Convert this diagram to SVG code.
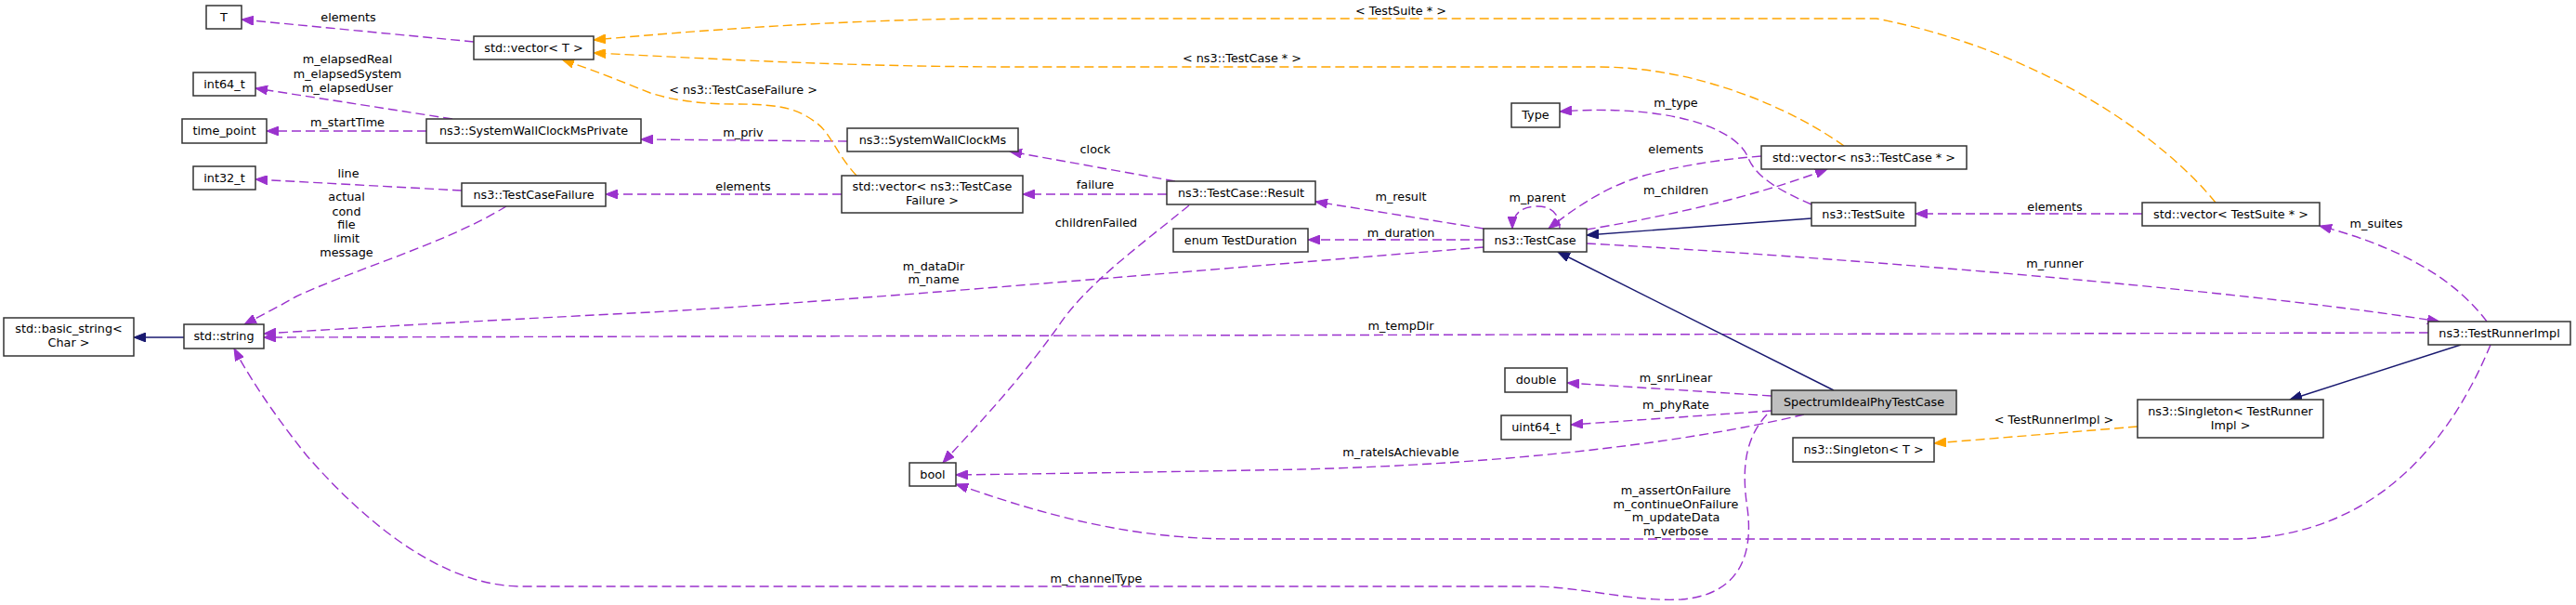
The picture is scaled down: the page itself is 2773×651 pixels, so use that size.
<svg xmlns="http://www.w3.org/2000/svg" width="2773" height="651" viewBox="0 0 2773 651">
<style>
.n{fill:#ffffff;stroke:#333333;stroke-width:1.5}
.g{fill:#bfbfbf;stroke:#333333;stroke-width:1.5}
.t{font-family:"DejaVu Sans","Liberation Sans",sans-serif;font-size:12.8px;text-anchor:middle;fill:#000000}
.p{fill:none;stroke:#9a32cd;stroke-width:1.4;stroke-dasharray:10,5}
.o{fill:none;stroke:#ffa500;stroke-width:1.4;stroke-dasharray:10,5}
.b{fill:none;stroke:#191970;stroke-width:1.4}
</style>
<defs>
<marker id="ap" markerUnits="userSpaceOnUse" markerWidth="14" markerHeight="10" refX="13" refY="5" orient="auto"><path d="M0,0 L13,5 L0,10 z" fill="#9a32cd" stroke="#9a32cd" stroke-width="1"/></marker>
<marker id="ao" markerUnits="userSpaceOnUse" markerWidth="14" markerHeight="10" refX="13" refY="5" orient="auto"><path d="M0,0 L13,5 L0,10 z" fill="#ffa500" stroke="#ffa500" stroke-width="1"/></marker>
<marker id="ab" markerUnits="userSpaceOnUse" markerWidth="14" markerHeight="10" refX="13" refY="5" orient="auto"><path d="M0,0 L13,5 L0,10 z" fill="#191970" stroke="#191970" stroke-width="1"/></marker>
</defs>
<rect x="0" y="0" width="2773" height="651" fill="#ffffff"/>
<g id="connectors">
<path class="p" marker-end="url(#ap)" d="M510,45 L260,21"/>
<text class="t" x="375" y="23">elements</text>
<path class="p" marker-end="url(#ap)" d="M487,128 L275,95"/>
<text class="t" x="374" y="68">m_elapsedReal</text>
<text class="t" x="374" y="84">m_elapsedSystem</text>
<text class="t" x="374" y="99">m_elapsedUser</text>
<path class="p" marker-end="url(#ap)" d="M459,141 L287,141"/>
<text class="t" x="374" y="136">m_startTime</text>
<path class="p" marker-end="url(#ap)" d="M497,205 L275,193"/>
<text class="t" x="375" y="191">line</text>
<path class="p" marker-end="url(#ap)" d="M545,222 C480,262 380,290 317,320 C300,330 280,340 263,349"/>
<text class="t" x="373" y="216">actual</text>
<text class="t" x="373" y="232">cond</text>
<text class="t" x="373" y="246">file</text>
<text class="t" x="373" y="261">limit</text>
<text class="t" x="373" y="276">message</text>
<path class="p" marker-end="url(#ap)" d="M912,152 L690,150"/>
<text class="t" x="800" y="147">m_priv</text>
<path class="p" marker-end="url(#ap)" d="M906,209 L652,209"/>
<text class="t" x="800" y="205">elements</text>
<path class="o" marker-end="url(#ao)" d="M922,189 C900,165 895,145 880,133 C860,118 845,112 790,112 C745,112 715,105 700,100 C670,88 640,76 605,64"/>
<text class="t" x="800" y="101">&lt; ns3::TestCaseFailure &gt;</text>
<path class="p" marker-end="url(#ap)" d="M1265,195 L1087,163"/>
<text class="t" x="1179" y="165">clock</text>
<path class="p" marker-end="url(#ap)" d="M1256,209 L1101,209"/>
<text class="t" x="1179" y="203">failure</text>
<path class="p" marker-end="url(#ap)" d="M1280,221 C1230,262 1170,305 1140,350 C1090,420 1040,470 1015,498"/>
<text class="t" x="1180" y="244">childrenFailed</text>
<path class="p" marker-end="url(#ap)" d="M1597,246 L1416,217"/>
<text class="t" x="1508" y="216">m_result</text>
<path class="p" marker-end="url(#ap)" d="M1597,258 L1408,258"/>
<text class="t" x="1508" y="255">m_duration</text>
<path class="p" marker-end="url(#ap)" d="M1679,246 C1679,232 1672,222 1655,222 C1638,222 1628,230 1628,246"/>
<text class="t" x="1655" y="217">m_parent</text>
<path class="p" marker-end="url(#ap)" d="M1896,168 C1830,173 1780,185 1757,193 C1720,206 1690,228 1667,246"/>
<text class="t" x="1804" y="165">elements</text>
<path class="p" marker-end="url(#ap)" d="M1708,247 C1780,235 1880,215 1967,182"/>
<text class="t" x="1804" y="209">m_children</text>
<path class="o" marker-end="url(#ao)" d="M1985,157 C1930,118 1830,72 1720,72 L1100,72 C900,72 750,62 639,57"/>
<text class="t" x="1337" y="67">&lt; ns3::TestCase * &gt;</text>
<path class="o" marker-end="url(#ao)" d="M2385,218 C2330,150 2200,55 2020,20 L1050,20 C900,22 760,32 639,43"/>
<text class="t" x="1508" y="16">&lt; TestSuite * &gt;</text>
<path class="p" marker-end="url(#ap)" d="M2306,230 L2062,230"/>
<text class="t" x="2212" y="227">elements</text>
<path class="p" marker-end="url(#ap)" d="M1950,220 C1915,205 1890,190 1882,170 C1868,135 1790,112 1679,120"/>
<text class="t" x="1804" y="115">m_type</text>
<path class="b" marker-end="url(#ab)" d="M1950,235 L1708,253"/>
<path class="p" marker-end="url(#ap)" d="M1708,262 C1950,275 2400,310 2626,346"/>
<text class="t" x="2212" y="288">m_runner</text>
<path class="p" marker-end="url(#ap)" d="M2677,346 C2650,310 2600,270 2497,243"/>
<text class="t" x="2558" y="245">m_suites</text>
<path class="p" marker-end="url(#ap)" d="M2614,358 L284,363"/>
<text class="t" x="1508" y="355">m_tempDir</text>
<path class="p" marker-end="url(#ap)" d="M1597,266 C1300,290 900,325 700,336 C500,346 380,353 284,359"/>
<text class="t" x="1005" y="291">m_dataDir</text>
<text class="t" x="1005" y="305">m_name</text>
<path class="b" marker-end="url(#ab)" d="M1974,420 L1677,271"/>
<path class="p" marker-end="url(#ap)" d="M1907,426 L1687,412"/>
<text class="t" x="1804" y="411">m_snrLinear</text>
<path class="p" marker-end="url(#ap)" d="M1907,442 L1691,457"/>
<text class="t" x="1804" y="440">m_phyRate</text>
<path class="p" marker-end="url(#ap)" d="M1942,446 C1800,480 1600,500 1400,505 C1250,508 1100,510 1029,511"/>
<text class="t" x="1508" y="491">m_rateIsAchievable</text>
<path class="p" marker-end="url(#ap)" d="M2681,371 C2640,470 2560,580 2400,580 L1330,580 C1200,580 1100,545 1029,521"/>
<text class="t" x="1804" y="532">m_assertOnFailure</text>
<text class="t" x="1804" y="547">m_continueOnFailure</text>
<text class="t" x="1804" y="561">m_updateData</text>
<text class="t" x="1804" y="576">m_verbose</text>
<path class="p" marker-end="url(#ap)" d="M1902,446 C1880,470 1875,500 1880,540 C1890,600 1870,640 1810,645 C1760,648 1700,631 1650,631 L560,631 C480,630 400,570 330,490 C290,440 265,400 252,375"/>
<text class="t" x="1180" y="627">m_channelType</text>
<path class="o" marker-end="url(#ao)" d="M2301,459 L2082,477"/>
<text class="t" x="2211" y="456">&lt; TestRunnerImpl &gt;</text>
<path class="b" marker-end="url(#ab)" d="M2649,371 L2465,430"/>
<path class="b" marker-end="url(#ab)" d="M198,363 L144,363"/>
</g>
<g id="node-T"><rect class="n" x="222" y="6" width="38" height="25"/><text class="t" x="241" y="22.5">T</text></g>
<g id="node-vectorT"><rect class="n" x="510" y="39" width="129" height="25"/><text class="t" x="574.5" y="55.5">std::vector&lt; T &gt;</text></g>
<g id="node-int64"><rect class="n" x="208" y="78" width="67" height="25"/><text class="t" x="241.5" y="94.5">int64_t</text></g>
<g id="node-timepoint"><rect class="n" x="196" y="128" width="91" height="26"/><text class="t" x="241.5" y="145">time_point</text></g>
<g id="node-swcmprivate"><rect class="n" x="459" y="128" width="231" height="26"/><text class="t" x="574.5" y="145">ns3::SystemWallClockMsPrivate</text></g>
<g id="node-int32"><rect class="n" x="208" y="179" width="67" height="25"/><text class="t" x="241.5" y="195.5">int32_t</text></g>
<g id="node-testcasefailure"><rect class="n" x="497" y="197" width="155" height="25"/><text class="t" x="574.5" y="213.5">ns3::TestCaseFailure</text></g>
<g id="node-swcm"><rect class="n" x="912" y="138" width="184" height="25"/><text class="t" x="1004" y="154.5">ns3::SystemWallClockMs</text></g>
<g id="node-vectortcf"><rect class="n" x="906" y="189" width="195" height="40"/><text class="t" x="1003.5" y="205">std::vector&lt; ns3::TestCase</text><text class="t" x="1003.5" y="220">Failure &gt;</text></g>
<g id="node-result"><rect class="n" x="1256" y="195" width="160" height="25"/><text class="t" x="1336" y="211.5">ns3::TestCase::Result</text></g>
<g id="node-duration"><rect class="n" x="1263" y="246" width="145" height="25"/><text class="t" x="1335.5" y="262.5">enum TestDuration</text></g>
<g id="node-type"><rect class="n" x="1627" y="111" width="52" height="26"/><text class="t" x="1653" y="128">Type</text></g>
<g id="node-vectortc"><rect class="n" x="1896" y="157" width="221" height="25"/><text class="t" x="2006.5" y="173.5">std::vector&lt; ns3::TestCase * &gt;</text></g>
<g id="node-testsuite"><rect class="n" x="1950" y="218" width="112" height="25"/><text class="t" x="2006" y="234.5">ns3::TestSuite</text></g>
<g id="node-testcase"><rect class="n" x="1597" y="246" width="111" height="25"/><text class="t" x="1652.5" y="262.5">ns3::TestCase</text></g>
<g id="node-vectorts"><rect class="n" x="2306" y="218" width="191" height="25"/><text class="t" x="2401.5" y="234.5">std::vector&lt; TestSuite * &gt;</text></g>
<g id="node-basicstring"><rect class="n" x="4" y="342" width="140" height="41"/><text class="t" x="74" y="358">std::basic_string&lt;</text><text class="t" x="74" y="373">Char &gt;</text></g>
<g id="node-string"><rect class="n" x="198" y="349" width="86" height="26"/><text class="t" x="241" y="366">std::string</text></g>
<g id="node-bool"><rect class="n" x="979" y="498" width="50" height="25"/><text class="t" x="1004" y="514.5">bool</text></g>
<g id="node-double"><rect class="n" x="1620" y="396" width="67" height="26"/><text class="t" x="1653.5" y="413">double</text></g>
<g id="node-uint64"><rect class="n" x="1616" y="447" width="75" height="26"/><text class="t" x="1653.5" y="464">uint64_t</text></g>
<g id="node-spectrum"><rect class="g" x="1907" y="420" width="199" height="26"/><text class="t" x="2006.5" y="437">SpectrumIdealPhyTestCase</text></g>
<g id="node-singletonT"><rect class="n" x="1930" y="471" width="152" height="26"/><text class="t" x="2006" y="488">ns3::Singleton&lt; T &gt;</text></g>
<g id="node-testrunnerimpl"><rect class="n" x="2614" y="346" width="153" height="25"/><text class="t" x="2690.5" y="362.5">ns3::TestRunnerImpl</text></g>
<g id="node-singletontri"><rect class="n" x="2301" y="430" width="200" height="41"/><text class="t" x="2401" y="447">ns3::Singleton&lt; TestRunner</text><text class="t" x="2401" y="462">Impl &gt;</text></g>
</svg>
